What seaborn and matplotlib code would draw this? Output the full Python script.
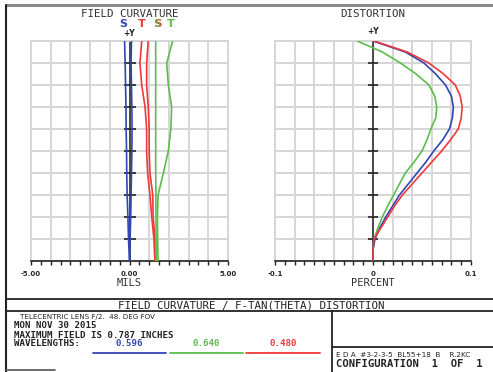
import numpy as np
import pandas as pd
import matplotlib
matplotlib.use("Agg")
import matplotlib.pyplot as plt
from matplotlib.lines import Line2D
import seaborn as sns

# ---------------- data ----------------
field = [0.0, 0.1, 0.2, 0.3, 0.4, 0.5, 0.6, 0.7, 0.8, 0.9, 1.0]

# field curvature (mils)
blue_s = [0.0, -0.05, -0.08, -0.12, -0.14, -0.15, -0.17, -0.18, -0.20, -0.22, -0.25]
blue_t = [0.0, 0.03, 0.06, 0.08, 0.10, 0.12, 0.13, 0.12, 0.10, 0.08, 0.10]
red_t = [1.29, 1.24, 1.13, 1.04, 0.92, 0.87, 0.87, 0.79, 0.62, 0.53, 0.62]
red_s = [1.29, 1.29, 1.20, 1.18, 1.04, 1.00, 1.00, 0.95, 0.87, 0.87, 0.95]
green_s = [1.36, 1.35, 1.34, 1.34, 1.33, 1.33, 1.33, 1.33, 1.33, 1.33, 1.33]
green_t = [1.45, 1.43, 1.42, 1.45, 1.72, 1.97, 2.10, 2.14, 1.97, 1.89, 2.19]

# distortion (percent), sampled finer
field_d = [0.0, 0.05, 0.1, 0.15, 0.2, 0.25, 0.3, 0.35, 0.4, 0.45, 0.5,
           0.55, 0.6, 0.65, 0.7, 0.75, 0.8, 0.85, 0.9, 0.95, 1.0]
dist_green = [0.0, 0.0, 0.001, 0.005, 0.0095, 0.015, 0.021, 0.027, 0.033, 0.042, 0.050,
              0.055, 0.059, 0.064, 0.065, 0.063, 0.057, 0.044, 0.028, 0.0095, -0.016]
dist_blue = [0.0, 0.0, 0.002, 0.007, 0.013, 0.020, 0.027, 0.036, 0.045, 0.054, 0.062,
             0.071, 0.078, 0.081, 0.082, 0.080, 0.074, 0.064, 0.052, 0.033, 0.0]
dist_red = [0.0, 0.0, 0.001, 0.008, 0.015, 0.022, 0.030, 0.040, 0.050, 0.060, 0.070,
            0.079, 0.087, 0.090, 0.091, 0.089, 0.084, 0.072, 0.057, 0.035, 0.001]

curv_ticks = ["-5.00", "0.00", "5.00"]
dist_ticks = ["-0.1", "0", "0.1"]
wavelengths = ["0.596", "0.640", "0.480"]

BLUE = "#3245b4"
RED = "#f0383c"
GREEN = "#5cbd4c"
GRID = "#d6d6d6"
INK = "#222222"

W, H = 493, 372
sns.set_style("white")
plt.rcParams["font.family"] = ["DejaVu Sans Mono", "DejaVu Sans"]
fig = plt.figure(figsize=(W / 100, H / 100), dpi=100)


def fx(x):
    return x / W


def fy(y):
    return 1 - y / H


def ax_at(x0, y0, x1, y1):
    return fig.add_axes([fx(x0), fy(y1), (x1 - x0) / W, (y1 - y0) / H])


def style_axes(ax, lim, labels, ticklen_px):
    ax.set_xlim(-lim, lim)
    ax.set_ylim(0, 1)
    grid_x = np.linspace(-lim, lim, 11)
    ax.set_xticks(grid_x)
    lab = [""] * 11
    lab[0], lab[5], lab[10] = labels
    ax.set_xticklabels(lab, fontsize=5, fontweight="bold", family="DejaVu Sans")
    ax.set_xticks((grid_x[:-1] + grid_x[1:]) / 2, minor=True)
    ax.set_yticks(np.linspace(0, 1, 11))
    ax.set_yticklabels([])
    ax.tick_params(axis="x", which="both", direction="out", length=3.2, width=1.0,
                   color=INK, pad=4, bottom=True)
    ax.tick_params(axis="y", which="both", length=0)
    ax.grid(True, which="major", color=GRID, linewidth=1.4)
    ax.grid(False, which="minor")
    for s in ["top", "left", "right"]:
        ax.spines[s].set_color(GRID)
        ax.spines[s].set_linewidth(1.4)
    ax.spines["bottom"].set_color(INK)
    ax.spines["bottom"].set_linewidth(1.2)
    # center axis with ticks
    ax.axvline(0, color=INK, lw=1.1, zorder=1)
    tk = [f for f in field if f > 0]
    ax.plot(np.zeros(len(tk)), tk, ls="none", marker="_", ms=ticklen_px * 0.72,
            mew=1.2, color=INK, zorder=1)


# ---------------- field curvature ----------------
ax1 = ax_at(31, 41, 228, 261)
style_axes(ax1, 5.0, curv_ticks, 12)
curves = [(blue_s, BLUE), (blue_t, BLUE), (red_t, RED), (red_s, RED),
          (green_s, GREEN), (green_t, GREEN)]
for vals, col in curves:
    df = pd.DataFrame({"v": vals, "f": field})
    sns.lineplot(data=df, x="v", y="f", sort=False, estimator=None, color=col,
                 linewidth=1.2, ax=ax1, zorder=3)
ax1.set_xlabel("")
ax1.set_ylabel("")

# ---------------- distortion ----------------
ax2 = ax_at(275, 41, 471, 261)
style_axes(ax2, 0.1, dist_ticks, 10)
for vals, col in [(dist_green, GREEN), (dist_blue, BLUE), (dist_red, RED)]:
    df = pd.DataFrame({"v": vals, "f": field_d})
    sns.lineplot(data=df, x="v", y="f", sort=False, estimator=None, color=col,
                 linewidth=1.2, ax=ax2, zorder=3)
ax2.set_xlabel("")
ax2.set_ylabel("")

# ---------------- texts ----------------
def t(x, y, s, size=7, color="#333333", ha="center", **kw):
    fig.text(fx(x), fy(y), s, fontsize=size, color=color, ha=ha, va="center", **kw)


t(129.5, 14, "FIELD CURVATURE", 7.8)
t(373, 14, "DISTORTION", 7.8)
t(123, 24, "S", 8, BLUE, fontweight="bold", family="DejaVu Sans")
t(141.7, 24, "T", 8, RED, fontweight="bold", family="DejaVu Sans")
t(157.3, 24, "S", 8, GREEN, fontweight="bold", family="DejaVu Sans")
t(157.8, 24, "S", 8, RED, fontweight="bold", family="DejaVu Sans", alpha=0.55)
t(170.7, 24, "T", 8, GREEN, fontweight="bold", family="DejaVu Sans")
t(129, 34, "+Y", 5.5, INK, family="DejaVu Sans", fontweight="bold")
t(373, 32, "+Y", 5.5, INK, family="DejaVu Sans", fontweight="bold")
t(129.5, 283, "MILS", 7.5)
t(373, 283, "PERCENT", 7.5)

t(251, 305, "FIELD CURVATURE / F-TAN(THETA) DISTORTION", 7.8, INK)
t(20, 317, "TELECENTRIC LENS F/2.  48. DEG FOV", 5.1, INK, ha="left",
  family="DejaVu Sans")
t(14, 326, "MON NOV 30 2015", 6.6, INK, ha="left", fontweight="bold")
t(14, 335, "MAXIMUM FIELD IS 0.787 INCHES", 6.6, INK, ha="left", fontweight="bold")
t(14, 344, "WAVELENGTHS:", 6.6, INK, ha="left", fontweight="bold")
wl_cols = [BLUE, GREEN, RED]
wl_x = [[93, 166], [170, 243], [246, 320]]
for s, c, (a, b) in zip(wavelengths, wl_cols, wl_x):
    t((a + b) / 2, 344, s, 6.6, c, fontweight="bold")
    fig.add_artist(Line2D([fx(a), fx(b)], [fy(353), fy(353)], color=c, lw=1.3))

t(336, 355, "E D A  #3-2-3-5  BL55+18  B    R.2KC", 5.2, INK, ha="left",
  family="DejaVu Sans")
t(336, 364, "CONFIGURATION  1  OF  1", 7.6, INK, ha="left", fontweight="bold")

# ---------------- frame ----------------
def fl(x0, y0, x1, y1, c=INK, lw=1.3):
    fig.add_artist(Line2D([fx(x0), fx(x1)], [fy(y0), fy(y1)], color=c, lw=lw))


fl(6, 5, 493, 5, "#8a8a8a", 2.2)
fl(6, 5, 6, 372, INK, 1.5)
fl(6, 299, 493, 299, INK, 1.3)
fl(6, 311, 493, 311, INK, 1.3)
fl(332, 311, 332, 372, INK, 1.3)
fl(332, 347, 493, 347, INK, 1.3)
fl(6, 370, 55, 370, "#555555", 1.2)

fig.savefig("out.png", dpi=100)
